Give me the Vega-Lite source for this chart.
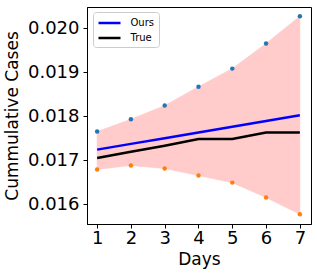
{
  "$schema": "https://vega.github.io/schema/vega-lite/v6.json",
  "width": 224,
  "height": 217,
  "autosize": {"type": "none"},
  "padding": {"left": 87, "top": 7, "right": 6, "bottom": 54},
  "config": {
    "font": "DejaVu Sans",
    "view": {"stroke": "black", "strokeWidth": 1},
    "axis": {
      "grid": false,
      "domainColor": "black",
      "tickColor": "black",
      "labelColor": "black",
      "titleColor": "black",
      "labelFont": "DejaVu Sans",
      "titleFont": "DejaVu Sans",
      "labelFontSize": 18,
      "titleFontSize": 17,
      "titleFontWeight": "normal",
      "tickSize": 4
    }
  },
  "data": {
    "values": [
      {"day": 1, "upper": 0.01765, "lower": 0.01679, "Ours": 0.01724, "True": 0.01705},
      {"day": 2, "upper": 0.01793, "lower": 0.01688, "Ours": 0.01737, "True": 0.01719},
      {"day": 3, "upper": 0.01824, "lower": 0.01681, "Ours": 0.01750, "True": 0.01733},
      {"day": 4, "upper": 0.01867, "lower": 0.01665, "Ours": 0.01763, "True": 0.01748},
      {"day": 5, "upper": 0.01908, "lower": 0.01649, "Ours": 0.01776, "True": 0.01748},
      {"day": 6, "upper": 0.01965, "lower": 0.01615, "Ours": 0.01789, "True": 0.01763},
      {"day": 7, "upper": 0.02027, "lower": 0.01577, "Ours": 0.01802, "True": 0.01763}
    ]
  },
  "encoding": {
    "x": {
      "field": "day", "type": "quantitative",
      "scale": {"domain": [0.7, 7.33], "nice": false, "zero": false},
      "axis": {"values": [1, 2, 3, 4, 5, 6, 7], "title": "Days", "titlePadding": 4, "labelPadding": 1}
    }
  },
  "layer": [
    {
      "mark": {"type": "area", "color": "red", "opacity": 0.2, "stroke": "red", "strokeOpacity": 0.6, "strokeWidth": 1},
      "encoding": {
        "y": {
          "field": "lower", "type": "quantitative",
          "scale": {"domain": [0.01555, 0.02048], "nice": false, "zero": false},
          "axis": {"values": [0.016, 0.017, 0.018, 0.019, 0.02], "format": ".3f", "title": "Cummulative Cases", "titlePadding": 6, "labelPadding": 4}
        },
        "y2": {"field": "upper"}
      }
    },
    {
      "mark": {"type": "point", "filled": true, "color": "#1f77b4", "size": 20, "opacity": 1},
      "encoding": {"y": {"field": "upper", "type": "quantitative"}}
    },
    {
      "mark": {"type": "point", "filled": true, "color": "#ff7f0e", "size": 20, "opacity": 1},
      "encoding": {"y": {"field": "lower", "type": "quantitative"}}
    },
    {
      "transform": [{"fold": ["Ours", "True"], "as": ["series", "value"]}],
      "mark": {"type": "line", "strokeWidth": 2.5},
      "encoding": {
        "y": {"field": "value", "type": "quantitative"},
        "color": {
          "field": "series", "type": "nominal",
          "scale": {"domain": ["Ours", "True"], "range": ["blue", "black"]},
          "legend": {
            "title": null,
            "orient": "none",
            "legendX": 6,
            "legendY": 5,
            "symbolType": "M-2,0H2",
            "symbolStrokeWidth": 2.5,
            "symbolSize": 121,
            "symbolOffset": 5.5,
            "labelOffset": 14,
            "labelFontSize": 10,
            "labelFont": "DejaVu Sans",
            "labelColor": "black",
            "strokeColor": "#cccccc",
            "fillColor": "white",
            "padding": 4,
            "cornerRadius": 3,
            "rowPadding": 3
          }
        }
      }
    }
  ]
}
